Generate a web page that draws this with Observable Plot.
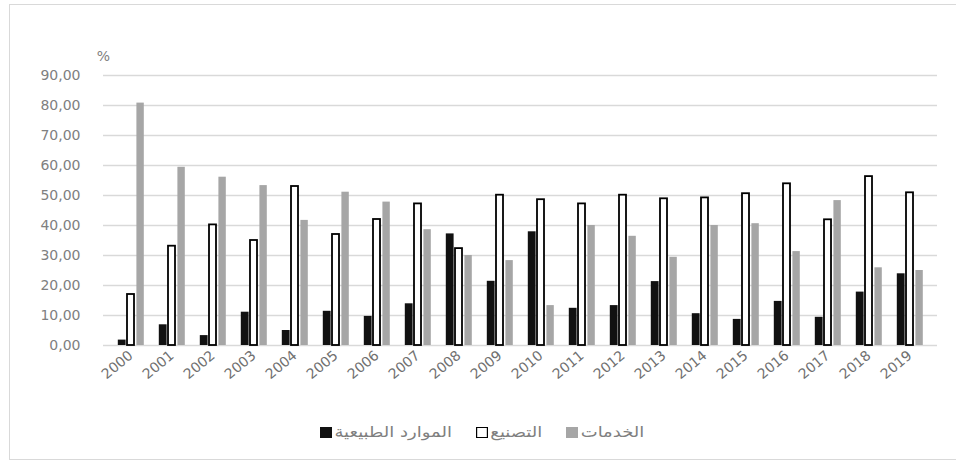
<!DOCTYPE html>
<html>
<head>
<meta charset="utf-8">
<script src="https://cdn.jsdelivr.net/npm/d3@7"></script>
<script src="https://cdn.jsdelivr.net/npm/@observablehq/plot@0.6"></script>
<style>
  html, body { margin: 0; padding: 0; background: #fff; }
  #frame { position: relative; width: 956px; height: 464px; overflow: hidden; }
  #border { position: absolute; left: 9px; top: 4px; width: 970px; height: 456px; border: 1.5px solid #d9d9d9; box-sizing: border-box; }
  #chart { position: absolute; left: 0; top: 0; }
  #legend { position: absolute; left: 320px; top: 423px; display: flex; align-items: center; gap: 20px;
            font-family: "DejaVu Sans", sans-serif; font-size: 15px; color: #7f7f7f;
            transform: scaleX(1.2); transform-origin: 0 50%; }
  .item { display: flex; align-items: center; gap: 2px; }
  .sw { width: 10px; height: 11px; box-sizing: border-box; }
</style>
</head>
<body>
<div id="frame">
  <div id="border"></div>
  <div id="chart"></div>
  <div id="legend"></div>
</div>
<script>
const years = ["2000","2001","2002","2003","2004","2005","2006","2007","2008","2009",
               "2010","2011","2012","2013","2014","2015","2016","2017","2018","2019"];
const natural = [1.8, 6.9, 3.3, 11.1, 5.0, 11.4, 9.7, 13.9, 37.2, 21.4,
                 37.9, 12.4, 13.3, 21.3, 10.6, 8.7, 14.7, 9.4, 17.8, 23.9];
const manufacturing = [17.0, 33.1, 40.2, 35.0, 53.0, 37.0, 42.0, 47.2, 32.3, 50.1,
                       48.6, 47.2, 50.1, 48.9, 49.2, 50.6, 53.9, 41.9, 56.3, 50.9];
const services = [80.8, 59.4, 56.1, 53.3, 41.7, 51.1, 47.8, 38.6, 30.0, 28.3,
                  13.3, 40.0, 36.4, 29.4, 40.0, 40.6, 31.3, 48.3, 25.9, 25.0];
const yTicks = [0, 10, 20, 30, 40, 50, 60, 70, 80, 90];
const seriesNames = ["الموارد الطبيعية", "التصنيع", "الخدمات"];
const seriesFill = ["#111111", "#ffffff", "#a6a6a6"];
const seriesStroke = ["none", "#000000", "none"];

const rows = years.map((y, i) => ({year: y, natural: natural[i], manufacturing: manufacturing[i], services: services[i]}));
const fmt = d => d3.format(".2f")(d).replace(".", ",");

const chart = Plot.plot({
  width: 956,
  height: 415,
  marginLeft: 103,
  marginRight: 19,
  marginTop: 75,
  marginBottom: 70,
  style: {fontFamily: "DejaVu Sans, sans-serif", background: "transparent"},
  x: {domain: years, padding: 0, label: null},
  y: {domain: [0, 90], label: null},
  marks: [
    Plot.gridY(yTicks, {stroke: "#d9d9d9", strokeOpacity: 1, strokeWidth: 1.6}),
    Plot.barY(rows, {x: "year", y: "natural", fill: seriesFill[0], insetLeft: 16.6, insetRight: 16.6, dx: -8.8}),
    Plot.barY(rows, {x: "year", y: "manufacturing", fill: seriesFill[1], stroke: seriesStroke[1], strokeWidth: 1.8, insetLeft: 17, insetRight: 17}),
    Plot.barY(rows, {x: "year", y: "services", fill: seriesFill[2], insetLeft: 16.8, insetRight: 16.8, dx: 9.6}),
    Plot.axisX({tickSize: 0, tickRotate: -40, tickPadding: 8, fontSize: 14, fill: "#707070", label: null}),
    Plot.axisY(yTicks, {tickSize: 0, tickPadding: 23, tickFormat: fmt, fontSize: 14, fill: "#808080", label: null, style: {letterSpacing: "1.6px"}}),
    Plot.text(["%"], {text: d => d, frameAnchor: "top-left", dy: -24, textAnchor: "middle", fontSize: 14, fill: "#808080"})
  ]
});
document.getElementById("chart").appendChild(chart);

const legend = document.getElementById("legend");
seriesNames.forEach((name, i) => {
  const item = document.createElement("div");
  item.className = "item";
  const sw = document.createElement("div");
  sw.className = "sw";
  sw.style.background = seriesFill[i];
  if (seriesStroke[i] !== "none") sw.style.border = "1.8px solid " + seriesStroke[i];
  const t = document.createElement("span");
  t.dir = "rtl";
  t.textContent = name;
  item.appendChild(sw);
  item.appendChild(t);
  legend.appendChild(item);
});
</script>
</body>
</html>
